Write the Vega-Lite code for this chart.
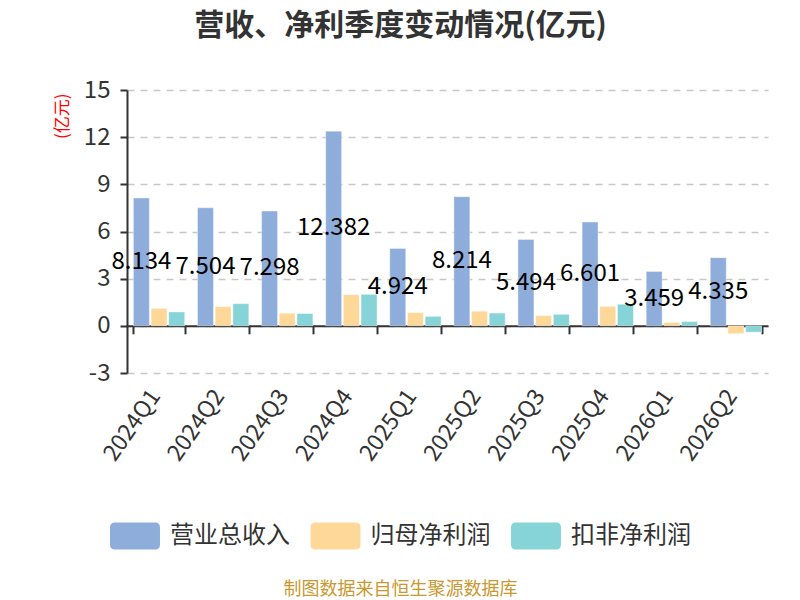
{
  "$schema": "https://vega.github.io/schema/vega-lite/v6.json",
  "width": 641,
  "height": 283,
  "autosize": {"type": "none"},
  "padding": {"left": 127, "top": 90, "right": 32, "bottom": 227},
  "background": "white",
  "config": {"view": {"stroke": null}, "font": "Noto Sans CJK SC"},
  "title": {
    "text": "营收、净利季度变动情况(亿元)",
    "fontSize": 30,
    "fontWeight": "bold",
    "color": "#333",
    "anchor": "middle",
    "frame": "group",
    "dx": -47,
    "baseline": "bottom",
    "offset": 7
  },
  "data": {
    "values": [
      {"q": "2024Q1", "s": "营业总收入", "v": 8.134},
      {"q": "2024Q1", "s": "归母净利润", "v": 1.11},
      {"q": "2024Q1", "s": "扣非净利润", "v": 0.88},
      {"q": "2024Q2", "s": "营业总收入", "v": 7.504},
      {"q": "2024Q2", "s": "归母净利润", "v": 1.22},
      {"q": "2024Q2", "s": "扣非净利润", "v": 1.41},
      {"q": "2024Q3", "s": "营业总收入", "v": 7.298},
      {"q": "2024Q3", "s": "归母净利润", "v": 0.8},
      {"q": "2024Q3", "s": "扣非净利润", "v": 0.78},
      {"q": "2024Q4", "s": "营业总收入", "v": 12.382},
      {"q": "2024Q4", "s": "归母净利润", "v": 1.98},
      {"q": "2024Q4", "s": "扣非净利润", "v": 2.0},
      {"q": "2025Q1", "s": "营业总收入", "v": 4.924},
      {"q": "2025Q1", "s": "归母净利润", "v": 0.84},
      {"q": "2025Q1", "s": "扣非净利润", "v": 0.6},
      {"q": "2025Q2", "s": "营业总收入", "v": 8.214},
      {"q": "2025Q2", "s": "归母净利润", "v": 0.93},
      {"q": "2025Q2", "s": "扣非净利润", "v": 0.81},
      {"q": "2025Q3", "s": "营业总收入", "v": 5.494},
      {"q": "2025Q3", "s": "归母净利润", "v": 0.65},
      {"q": "2025Q3", "s": "扣非净利润", "v": 0.73},
      {"q": "2025Q4", "s": "营业总收入", "v": 6.601},
      {"q": "2025Q4", "s": "归母净利润", "v": 1.24},
      {"q": "2025Q4", "s": "扣非净利润", "v": 1.37},
      {"q": "2026Q1", "s": "营业总收入", "v": 3.459},
      {"q": "2026Q1", "s": "归母净利润", "v": 0.21},
      {"q": "2026Q1", "s": "扣非净利润", "v": 0.27},
      {"q": "2026Q2", "s": "营业总收入", "v": 4.335},
      {"q": "2026Q2", "s": "归母净利润", "v": -0.5},
      {"q": "2026Q2", "s": "扣非净利润", "v": -0.4}
    ]
  },
  "layer": [
    {
      "mark": {"type": "bar", "stroke": "#ffffff", "strokeOpacity": 0.35, "strokeWidth": 1},
      "encoding": {
        "x": {
          "field": "q",
          "type": "nominal",
          "sort": null,
          "scale": {"paddingInner": 0.2, "paddingOuter": 0.1},
          "axis": {
            "offset": -47.17,
            "tickBand": "extent",
            "grid": false,
            "domainColor": "#333",
            "domainWidth": 2,
            "tickColor": "#333",
            "tickWidth": 2,
            "tickSize": 8,
            "labelAngle": -55,
            "labelAlign": "right",
            "labelBaseline": "middle",
            "labelPadding": 58,
            "labelOffset": -4,
            "labelFontSize": 23,
            "labelColor": "#333",
            "title": "制图数据来自恒生聚源数据库",
            "titleX": 273,
            "titleY": 264,
            "titleAlign": "center",
            "titleBaseline": "middle",
            "titleFontSize": 18,
            "titleFontWeight": "normal",
            "titleColor": "#c9982f"
          }
        },
        "xOffset": {
          "field": "s",
          "type": "nominal",
          "scale": {"domain": ["营业总收入", "归母净利润", "扣非净利润"], "paddingInner": 0.1, "paddingOuter": 0}
        },
        "y": {
          "field": "v",
          "type": "quantitative",
          "scale": {"domain": [-3, 15], "nice": false, "zero": false},
          "axis": {
            "values": [-3, 0, 3, 6, 9, 12, 15],
            "labelExpr": "'' + datum.value",
            "grid": true,
            "gridDash": [7, 6],
            "gridColor": "#c8c8c8",
            "gridWidth": 1.5,
            "domainColor": "#333",
            "domainWidth": 2,
            "tickColor": "#333",
            "tickWidth": 2,
            "tickSize": 7,
            "labelPadding": 10,
            "labelFontSize": 24,
            "labelColor": "#333",
            "title": "(亿元)",
            "titleColor": "red",
            "titleFontSize": 17,
            "titleFontWeight": "normal",
            "titleAngle": -90,
            "titleX": -65,
            "titleY": 3,
            "titleAlign": "right",
            "titleBaseline": "middle"
          }
        },
        "color": {
          "field": "s",
          "type": "nominal",
          "scale": {
            "domain": ["营业总收入", "归母净利润", "扣非净利润"],
            "range": ["#8eaddb", "#fed898", "#86d4d8"]
          },
          "legend": {
            "orient": "none",
            "legendX": -5.5,
            "legendY": 432.5,
            "direction": "horizontal",
            "title": null,
            "symbolType": "M-1.48,-1 H1.48 Q1.85,-1 1.85,-0.63 V0.63 Q1.85,1 1.48,1 H-1.48 Q-1.85,1 -1.85,0.63 V-0.63 Q-1.85,-1 -1.48,-1 Z",
            "symbolSize": 729,
            "symbolStrokeWidth": 0,
            "symbolOpacity": 1,
            "labelFontSize": 24,
            "labelColor": "#333",
            "labelOffset": 21.5,
            "labelLimit": 300,
            "columnPadding": 19.5,
            "padding": 0
          }
        }
      }
    },
    {
      "transform": [{"filter": "datum.s === '营业总收入'"}],
      "mark": {"type": "text", "fontSize": 24, "color": "#000", "align": "center", "baseline": "middle"},
      "encoding": {
        "x": {"field": "q", "type": "nominal", "sort": null},
        "xOffset": {"field": "s", "type": "nominal"},
        "y": {
          "field": "v",
          "type": "quantitative",
          "scale": {"domain": [-6, 30], "nice": false, "zero": false},
          "axis": null
        },
        "text": {"field": "v", "type": "quantitative", "format": ".3f"}
      }
    }
  ],
  "resolve": {"scale": {"y": "independent"}}
}
